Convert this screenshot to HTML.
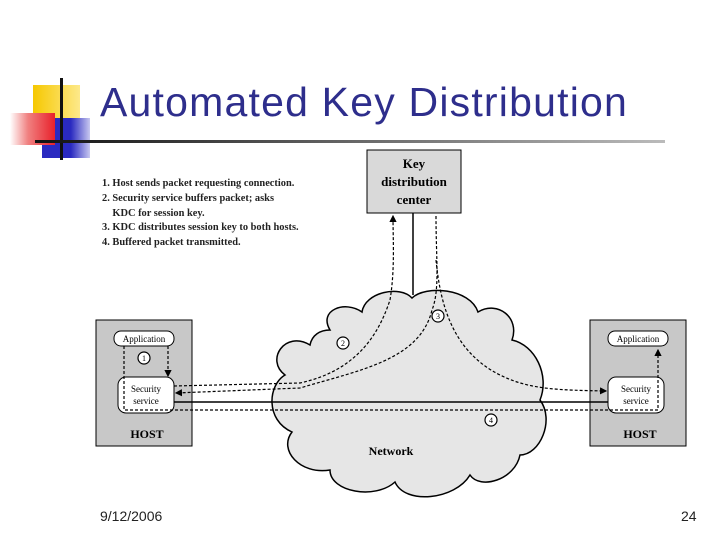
<!DOCTYPE html>
<html><head><meta charset="utf-8"><style>
body{margin:0;width:720px;height:540px;background:#fff;position:relative;overflow:hidden;font-family:"Liberation Sans",sans-serif}
.t{position:absolute}
</style></head><body>
<div class="t" style="left:33px;top:85px;width:47px;height:34px;background:linear-gradient(90deg,#f6c800,#fde98a)"></div>
<div class="t" style="left:42px;top:118px;width:48px;height:40px;background:linear-gradient(90deg,#2a2ac0,#2a2ac0 60%,#c8c8f0)"></div>
<div class="t" style="left:10px;top:113px;width:45px;height:32px;background:linear-gradient(90deg,#fff 0%,#f08080 40%,#e8202a 100%)"></div>
<div class="t" style="left:60px;top:78px;width:3px;height:82px;background:#111"></div>
<div class="t" style="left:35px;top:140px;width:630px;height:3px;background:linear-gradient(90deg,#111,#555 40%,#bbb)"></div>
<div class="t" style="left:100px;top:79px;font-size:41px;letter-spacing:1.2px;color:#2e2e8c;white-space:nowrap">Automated Key Distribution</div>
<div class="t" style="left:102px;top:177px;font:bold 10.4px/14.8px 'Liberation Serif',serif;color:#222;white-space:nowrap">1. Host sends packet requesting connection.<br>2. Security service buffers packet; asks<br>&nbsp;&nbsp;&nbsp;&nbsp;KDC for session key.<br>3. KDC distributes session key to both hosts.<br>4. Buffered packet transmitted.</div>
<svg class="t" style="left:0;top:0" width="720" height="540" font-family="Liberation Serif,serif">
<defs><marker id="a" markerWidth="6" markerHeight="6" refX="5" refY="3" orient="auto"><path d="M0,0 L6,3 L0,6 z" fill="#000"/></marker></defs>
<rect x="367" y="150" width="94" height="63" fill="#d9d9d9" stroke="#000"/>
<text font-weight="bold" font-size="13" text-anchor="middle"><tspan x="414" y="168">Key</tspan><tspan x="414" y="186">distribution</tspan><tspan x="414" y="204">center</tspan></text>
<line x1="413" y1="213" x2="413" y2="295" stroke="#000" stroke-width="1.5"/>
<path d="M330,330 C318,310 345,300 362,312 C365,292 400,285 412,298 C425,285 470,288 478,312 C498,300 520,318 512,340 C535,345 550,375 540,400 C555,420 540,455 520,455 C515,480 480,490 470,475 C455,500 405,505 395,482 C375,500 330,492 330,470 C300,475 278,450 292,432 C265,420 268,385 285,375 C265,360 285,330 310,345 C312,335 320,330 330,330 Z" fill="#e6e6e6" stroke="#000" stroke-width="1.5"/>
<rect x="96" y="320" width="96" height="126" fill="#c8c8c8" stroke="#000"/>
<rect x="590" y="320" width="96" height="126" fill="#c8c8c8" stroke="#000"/>
<rect x="114" y="331" width="60" height="15" rx="7" fill="#fff" stroke="#000"/>
<rect x="608" y="331" width="60" height="15" rx="7" fill="#fff" stroke="#000"/>
<rect x="118" y="377" width="56" height="36" rx="8" fill="#fff" stroke="#000"/>
<rect x="608" y="377" width="56" height="36" rx="8" fill="#fff" stroke="#000"/>
<g font-size="9" text-anchor="middle"><text x="144" y="342">Application</text><text x="638" y="342">Application</text>
<text x="146" y="392">Security</text><text x="146" y="404">service</text><text x="636" y="392">Security</text><text x="636" y="404">service</text></g>
<g font-size="12" font-weight="bold" text-anchor="middle"><text x="147" y="438">HOST</text><text x="640" y="438">HOST</text><text x="391" y="455">Network</text></g>
<line x1="174" y1="402" x2="608" y2="402" stroke="#000" stroke-width="1.5"/>
<g fill="none" stroke="#000" stroke-dasharray="3,2" stroke-width="1.2">
<path d="M124,346 L124,410 L658,410 L658,385 L658,350" marker-end="url(#a)"/>
<path d="M168,346 L168,376" marker-end="url(#a)"/>
<path d="M174,386 L300,383 C360,370 380,330 390,300 C395,270 393,240 393,216" marker-end="url(#a)"/>
<path d="M436,216 C436,260 440,290 432,310 C420,360 360,370 300,388 L176,393" marker-end="url(#a)"/>
<path d="M436,260 C440,300 450,350 500,375 C530,390 560,390 606,391" marker-end="url(#a)"/>
</g>
<g fill="#fff" stroke="#000" stroke-width="1.2" font-size="8" text-anchor="middle">
<circle cx="144" cy="358" r="6"/><circle cx="343" cy="343" r="6"/><circle cx="438" cy="316" r="6"/><circle cx="491" cy="420" r="6"/></g>
<g font-size="8" text-anchor="middle"><text x="144" y="361">1</text><text x="343" y="346">2</text><text x="438" y="319">3</text><text x="491" y="423">4</text></g>
</svg>
<div class="t" style="left:100px;top:508px;font-size:14px;color:#222">9/12/2006</div>
<div class="t" style="left:681px;top:508px;font-size:14px;color:#222">24</div>
</body></html>
